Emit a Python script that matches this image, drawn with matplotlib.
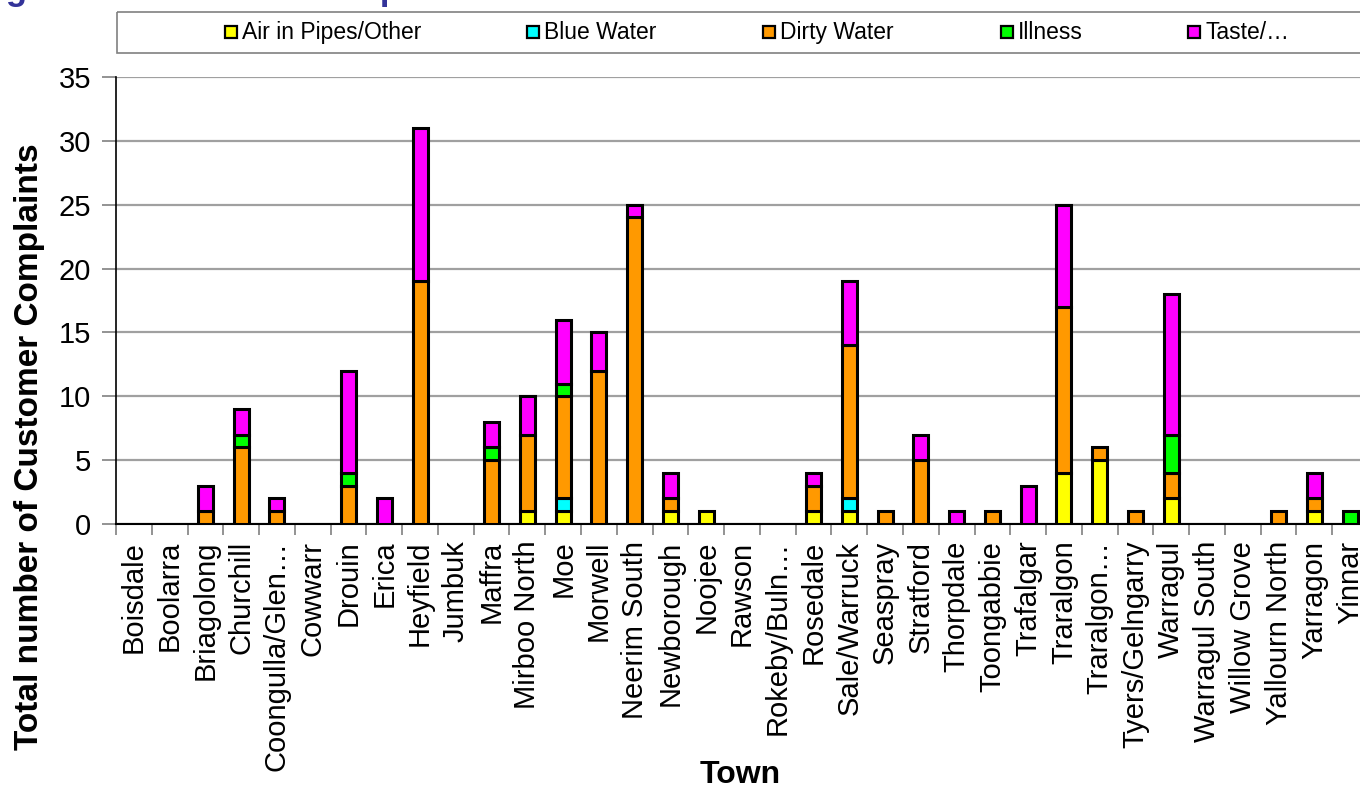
import numpy as np
import matplotlib.pyplot as plt
from matplotlib.patches import Rectangle

plt.rcParams['font.family'] = ['Liberation Sans', 'DejaVu Sans']

towns = ['Boisdale', 'Boolarra', 'Briagolong', 'Churchill', 'Coongulla/Glen\u2026',
         'Cowwarr', 'Drouin', 'Erica', 'Heyfield', 'Jumbuk', 'Maffra', 'Mirboo North',
         'Moe', 'Morwell', 'Neerim South', 'Newborough', 'Noojee', 'Rawson',
         'Rokeby/Buln\u2026', 'Rosedale', 'Sale/Warruck', 'Seaspray', 'Stratford',
         'Thorpdale', 'Toongabbie', 'Trafalgar', 'Traralgon', 'Traralgon\u2026',
         'Tyers/Gelngarry', 'Warragul', 'Warragul South', 'Willow Grove',
         'Yallourn North', 'Yarragon', 'Yinnar']

air     = [0, 0, 0, 0, 0, 0, 0, 0, 0, 0, 0, 1, 1, 0, 0, 1, 1, 0, 0, 1, 1, 0, 0, 0, 0, 0, 4, 5, 0, 2, 0, 0, 0, 1, 0]
blue    = [0, 0, 0, 0, 0, 0, 0, 0, 0, 0, 0, 0, 1, 0, 0, 0, 0, 0, 0, 0, 1, 0, 0, 0, 0, 0, 0, 0, 0, 0, 0, 0, 0, 0, 0]
dirty   = [0, 0, 1, 6, 1, 0, 3, 0, 19, 0, 5, 6, 8, 12, 24, 1, 0, 0, 0, 2, 12, 1, 5, 0, 1, 0, 13, 1, 1, 2, 0, 0, 1, 1, 0]
illness = [0, 0, 0, 1, 0, 0, 1, 0, 0, 0, 1, 0, 1, 0, 0, 0, 0, 0, 0, 0, 0, 0, 0, 0, 0, 0, 0, 0, 0, 3, 0, 0, 0, 0, 1]
taste   = [0, 0, 2, 2, 1, 0, 8, 2, 12, 0, 2, 3, 5, 3, 1, 2, 0, 0, 0, 1, 5, 0, 2, 1, 0, 3, 8, 0, 0, 11, 0, 0, 0, 2, 0]

series = ['Air in Pipes/Other', 'Blue Water', 'Dirty Water', 'Illness', 'Taste/\u2026']
colours = ['#FFFF00', '#00FFFF', '#FF9900', '#00FF00', '#FF00FF']

W, H = 1360, 789
fig = plt.figure(figsize=(W / 100, H / 100), dpi=100)

# plot area runs off the right edge of the figure
ax = fig.add_axes([116 / W, 1 - 524 / H, 1252 / W, 447 / H])

x = np.arange(len(towns))
bottom = np.zeros(len(towns))
for vals, col, name in zip([air, blue, dirty, illness, taste], colours, series):
    vals = np.array(vals, dtype=float)
    nz = vals > 0  # skip empty segments so no outline is drawn for them
    ax.bar(x[nz], vals[nz], 0.42, bottom=bottom[nz], color=col, edgecolor='black',
           linewidth=2.2, label=name, zorder=3)
    bottom += vals

ax.set_xlim(-0.5, len(towns) - 0.5)
ax.set_ylim(0, 35)
ax.set_yticks(np.arange(0, 36, 5))
ax.yaxis.grid(True, color='#a0a0a0', linewidth=1.6, zorder=0)
ax.set_axisbelow(True)

ax.set_xticks(x)
ax.set_xticklabels(towns, rotation=90, fontsize=21, va='top', ha='center')
ax.set_xticks(np.arange(-0.5, len(towns)), minor=True)
ax.tick_params(axis='x', which='major', length=0, pad=12)
ax.tick_params(axis='x', which='minor', length=8, color='#808080', width=1.2)
ax.tick_params(axis='y', length=10, color='#808080', width=1.2, pad=8, labelsize=21)

for s in ['top', 'right']:
    ax.spines[s].set_visible(False)
ax.spines['left'].set_linewidth(1.2)
ax.spines['bottom'].set_linewidth(1.5)

# overlay in pixel coords for legend, labels and heading
ov = fig.add_axes([0, 0, 1, 1], facecolor='none')
ov.set_xlim(0, W)
ov.set_ylim(H, 0)
ov.axis('off')

ov.text(-25, 0, 'Figure 7: Customer Complaints', color='#333399', fontsize=25,
        fontweight='bold', va='baseline', ha='left')

ov.add_patch(Rectangle((117, 12), 1300, 41, fill=False, edgecolor='#808080', linewidth=1.2))
leg_x = [225, 527, 763, 1001, 1188]
for lx, col, name in zip(leg_x, colours, series):
    ov.add_patch(Rectangle((lx, 26), 12, 12, facecolor=col, edgecolor='black', linewidth=1.6))
    ov.text(lx + 17, 32.5, name, fontsize=16.5, va='center', ha='left')

ov.text(30, 447, 'Total number of Customer Complaints', rotation=90, fontsize=24,
        fontweight='bold', va='center', ha='center')
ov.text(740, 775, 'Town', fontsize=23, fontweight='bold', va='center', ha='center')

fig.savefig('out.png', dpi=100)
